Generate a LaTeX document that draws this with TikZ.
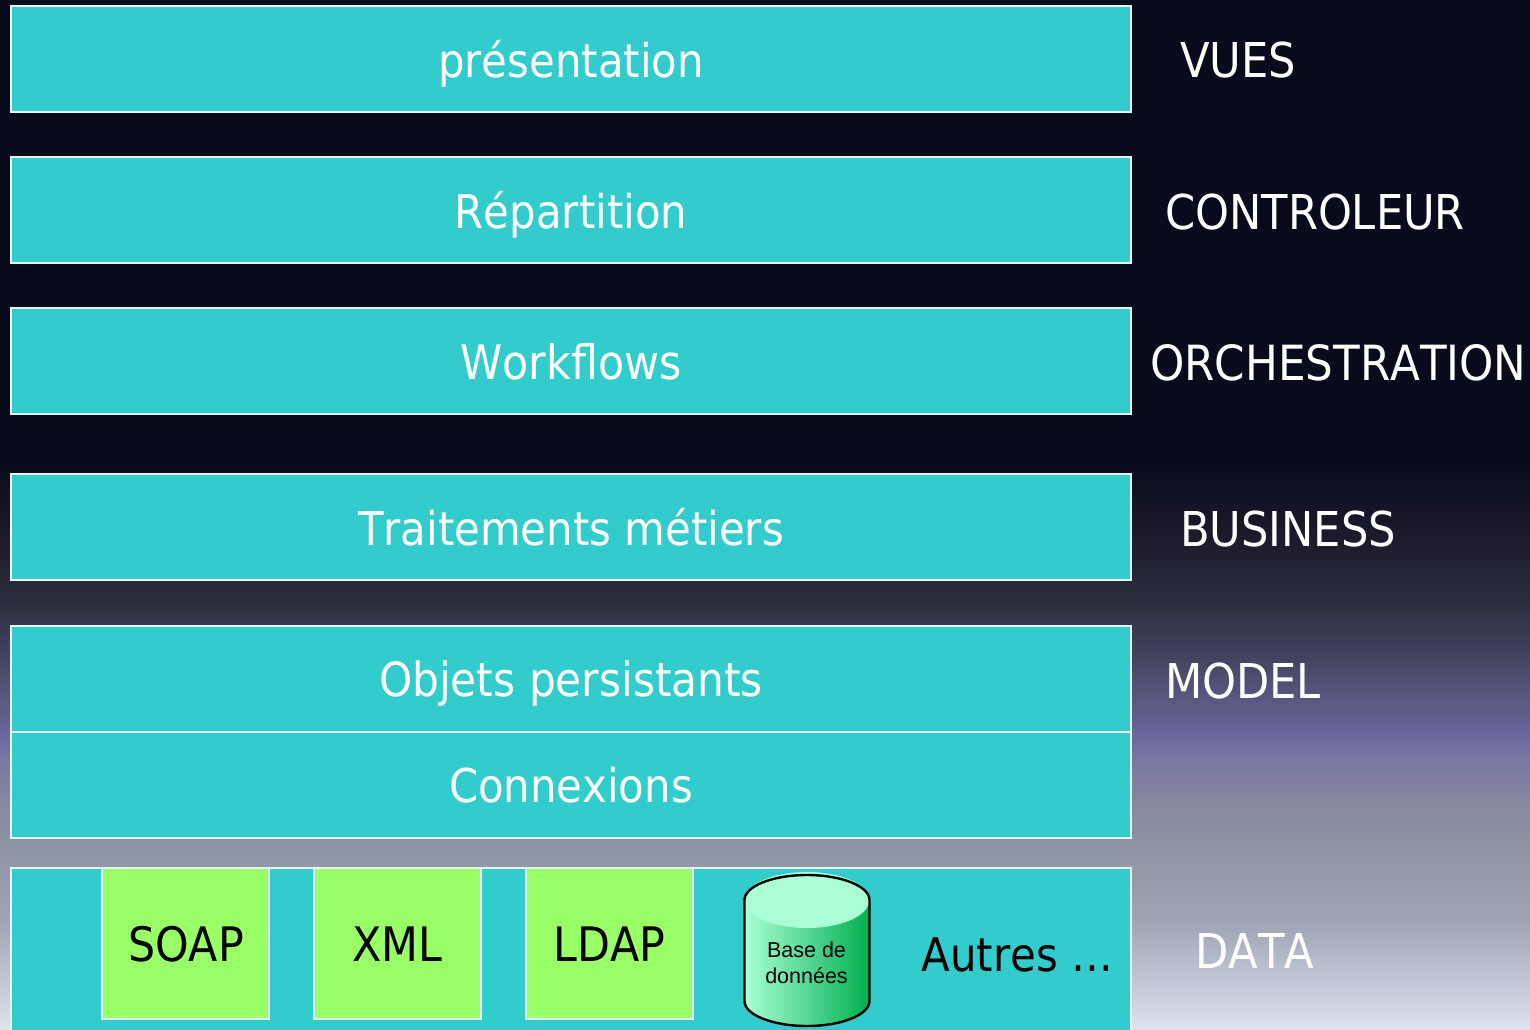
\documentclass[tikz,border=0pt]{standalone}
\usepackage{fontspec}
\setmainfont[Kerning=Off]{DejaVu Sans Condensed}
\newfontfamily\smallfont{Liberation Sans}
\pgfdeclareverticalshading{bgshade}{100bp}{
  rgb(0bp)=(0.86,0.89,0.925);
  rgb(25bp)=(0.86,0.89,0.925);
  rgb(27.4bp)=(0.75,0.78,0.83);
  rgb(30.3bp)=(0.62,0.64,0.71);
  rgb(33.7bp)=(0.56,0.58,0.65);
  rgb(36.1bp)=(0.52,0.53,0.62);
  rgb(38.1bp)=(0.47,0.47,0.64);
  rgb(39.3bp)=(0.42,0.41,0.62);
  rgb(40.5bp)=(0.36,0.36,0.53);
  rgb(41.5bp)=(0.33,0.33,0.48);
  rgb(42.9bp)=(0.27,0.27,0.38);
  rgb(45.8bp)=(0.17,0.18,0.25);
  rgb(48.1bp)=(0.12,0.12,0.19);
  rgb(52.6bp)=(0.04,0.04,0.115);
  rgb(100bp)=(0.04,0.04,0.115)}
\definecolor{teal1}{HTML}{33CCCC}
\definecolor{lime1}{HTML}{99FF66}
\definecolor{edge1}{HTML}{E6F7F7}
\definecolor{cyltop}{HTML}{AAFFD4}
\definecolor{cylleft}{HTML}{AAFFD4}
\definecolor{cylright}{HTML}{00B050}
\tikzset{
  x=1pt,y=-1pt,
  layer/.style={draw=edge1,line width=2pt,fill=teal1,minimum width=1120pt,minimum height=106pt,inner sep=0pt,outer sep=0pt},
  layertext/.style={font=\fontsize{46.5}{47}\selectfont,text=white,anchor=base,inner sep=0pt},
  sidetext/.style={font=\fontsize{48}{48}\selectfont,text=white,anchor=base west,inner sep=0pt},
  chip/.style={draw=edge1,line width=2pt,fill=lime1,minimum width=167pt,minimum height=151pt,inner sep=0pt,outer sep=0pt},
  chiptext/.style={font=\fontsize{47.5}{47}\selectfont,text=black,anchor=base,inner sep=0pt}
}
\begin{document}
\begin{tikzpicture}
\useasboundingbox (0,0) rectangle (1530,1029);
\clip (0,0) rectangle (1530,1029);
\shade[shading=bgshade] (0,0) rectangle (1530,1029);
% layers
\node[layer] (l1) at (570.5,58.5) {};
\node[layer] (l2) at (570.5,209.5) {};
\node[layer] (l3) at (570.5,360.5) {};
\node[layer] (l4) at (570.5,526.5) {};
\node[layer] (l5) at (570.5,678.5) {};
\node[layer] (l6) at (570.5,784.5) {};
\node[layer,minimum height=200pt] (l7) at (570.5,967.5) {};
% layer texts
\node[layertext] (t1) at (571,77.5) {présentation};
\node[layertext] (t2) at (571,228.5) {Répartition};
\node[layertext,font=\fontsize{47.5}{47}\selectfont] (t3) at (571,379.5) {Workflows};
\node[layertext] (t4) at (571,545.5) {Traitements métiers};
\node[layertext,font=\fontsize{47}{47}\selectfont] (t5) at (571,696.5) {Objets persistants};
\node[layertext] (t6) at (571,802.5) {Connexions};
% side labels
\node[sidetext] (s1) at (1180,77) {VUES};
\node[sidetext] (s2) at (1165,229) {CONTROLEUR};
\node[sidetext,font=\fontsize{48.5}{48}\selectfont] (s3) at (1150,380) {ORCHESTRATION};
\node[sidetext] (s4) at (1180,546) {BUSINESS};
\node[sidetext] (s5) at (1165,698) {MODEL};
\node[sidetext] (s6) at (1195,968) {DATA};
% chips
\node[chip] (c1) at (185.5,943.5) {};
\node[chip] (c2) at (397.5,943.5) {};
\node[chip] (c3) at (609.5,943.5) {};
\node[chiptext] (x1) at (186,961.5) {SOAP};
\node[chiptext] (x2) at (397.5,961.5) {XML};
\node[chiptext] (x3) at (609.5,961.5) {LDAP};
% cylinder
\path[left color=cylleft,right color=cylright]
  (744.5,900) -- (744.5,1001) arc[start angle=180,end angle=0,x radius=62.5,y radius=25]
  -- (869.5,900) arc[start angle=0,end angle=-180,x radius=62.5,y radius=25] -- cycle;
\fill[cyltop] (807,900) ellipse[x radius=62.5,y radius=28];
\draw[black,line width=2.4pt]
  (744.5,900) -- (744.5,1001) arc[start angle=180,end angle=0,x radius=62.5,y radius=25]
  -- (869.5,900) arc[start angle=0,end angle=-180,x radius=62.5,y radius=25] -- cycle;
\node[font=\smallfont\fontsize{21.5}{26}\selectfont,align=center,text=black,inner sep=0pt] (db) at (806.5,963) {Base de\\données};
\node[chiptext,font=\fontsize{46.5}{47}\selectfont] (x4) at (1017.5,971) {Autres …};
\end{tikzpicture}
\end{document}
